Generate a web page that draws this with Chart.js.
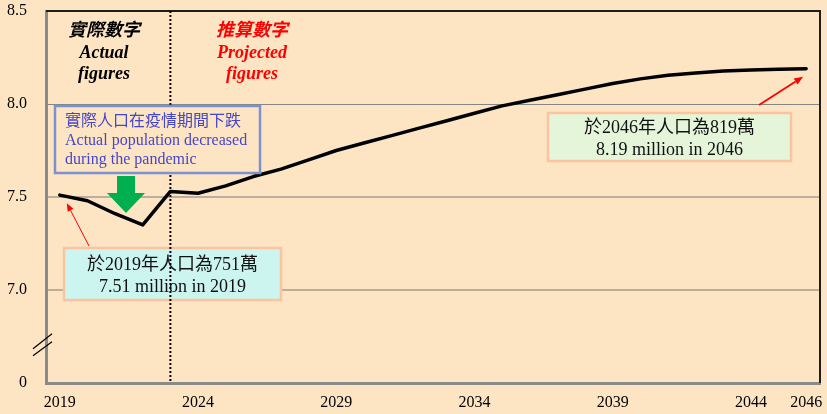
<!DOCTYPE html>
<html>
<head>
<meta charset="utf-8">
<script src="https://cdn.jsdelivr.net/npm/chart.js@4/dist/chart.umd.min.js"></script>
<style>
  html, body { margin: 0; padding: 0; background: #fde5c4; }
  #wrap { width: 827px; height: 414px; }
</style>
</head>
<body>
<div id="wrap"><canvas id="c" width="827" height="414"></canvas></div>
<script>
// ---- data ----
const years = [2019, 2020, 2021, 2022, 2023, 2024, 2025, 2026, 2027, 2028, 2029, 2030, 2031, 2032,
               2033, 2034, 2035, 2036, 2037, 2038, 2039, 2040, 2041, 2042, 2043, 2044, 2045, 2046];
const population = [7.51, 7.48, 7.41, 7.35, 7.53, 7.52, 7.56, 7.61, 7.65, 7.70, 7.75, 7.79, 7.83, 7.87,
                    7.91, 7.95, 7.99, 8.02, 8.05, 8.08, 8.11, 8.135, 8.155, 8.167, 8.177, 8.183, 8.187, 8.19];
const xTickLabels = [2019, 2024, 2029, 2034, 2039, 2044, 2046];
const yTickValues = [6.5, 7.0, 7.5, 8.0, 8.5];   // 6.5 is shown as "0" (broken axis)
const yTickText = ['0', '7.0', '7.5', '8.0', '8.5'];
const dividerYear = 2023;
const actualLabel = ['實際數字', 'Actual', 'figures'];
const projectedLabel = ['推算數字', 'Projected', 'figures'];
const pandemicNote = ['實際人口在疫情期間下跌', 'Actual population decreased', 'during the pandemic'];
const note2019 = ['於2019年人口為751萬', '7.51 million in 2019'];
const note2046 = ['於2046年人口為819萬', '8.19 million in 2046'];

const SERIF = '"Liberation Serif", "Noto Sans CJK TC", serif';
const BG = '#fde5c4';

const points = years.map((y, i) => ({ x: y, y: population[i] }));

function arrow(ctx, x1, y1, x2, y2, color, w, head) {
  ctx.save();
  ctx.strokeStyle = color; ctx.fillStyle = color; ctx.lineWidth = w;
  const a = Math.atan2(y2 - y1, x2 - x1);
  const bx = x2 - head * Math.cos(a), by = y2 - head * Math.sin(a);
  ctx.beginPath(); ctx.moveTo(x1, y1); ctx.lineTo(bx, by); ctx.stroke();
  ctx.beginPath();
  ctx.moveTo(x2, y2);
  ctx.lineTo(bx + head * 0.4 * Math.sin(a), by - head * 0.4 * Math.cos(a));
  ctx.lineTo(bx - head * 0.4 * Math.sin(a), by + head * 0.4 * Math.cos(a));
  ctx.closePath(); ctx.fill();
  ctx.restore();
}

function box(ctx, x, y, w, h, fill, stroke, lw) {
  ctx.save();
  if (fill) { ctx.fillStyle = fill; ctx.fillRect(x, y, w, h); }
  ctx.strokeStyle = stroke; ctx.lineWidth = lw;
  ctx.strokeRect(x, y, w, h);
  ctx.restore();
}

const decorPlugin = {
  id: 'decor',
  beforeDraw(chart) {
    const ctx = chart.ctx;
    ctx.save();
    ctx.fillStyle = BG;
    ctx.fillRect(0, 0, chart.width, chart.height);
    ctx.restore();
  },
  afterDatasetsDraw(chart) {
    const ctx = chart.ctx;
    const a = chart.chartArea;
    const xs = chart.scales.x, ys = chart.scales.y;

    // top & right frame
    ctx.save();
    ctx.strokeStyle = '#1e1e1e'; ctx.lineWidth = 2;
    ctx.beginPath();
    ctx.moveTo(a.left, a.top); ctx.lineTo(a.right, a.top); ctx.lineTo(a.right, a.bottom);
    ctx.stroke();
    ctx.restore();

    // 2019 note box (divider line shows through it)
    box(ctx, 64, 248, 217, 52, '#ccf5f0', '#fbc49f', 2.5);

    // divider dotted line
    const dx = xs.getPixelForValue(dividerYear);
    ctx.save();
    ctx.strokeStyle = '#000'; ctx.lineWidth = 2; ctx.setLineDash([2, 2]);
    ctx.beginPath(); ctx.moveTo(dx, a.top); ctx.lineTo(dx, a.bottom); ctx.stroke();
    ctx.restore();

    // axis break marks
    const by = ys.getPixelForValue(6.7);
    ctx.save();
    ctx.strokeStyle = '#000'; ctx.lineWidth = 1.2;
    ctx.beginPath();
    ctx.moveTo(a.left - 13, by + 3); ctx.lineTo(a.left + 6, by - 12);
    ctx.moveTo(a.left - 13, by + 10); ctx.lineTo(a.left + 6, by - 4);
    ctx.stroke();
    ctx.restore();

    // header labels
    ctx.save();
    ctx.textAlign = 'center'; ctx.textBaseline = 'middle';
    ctx.font = 'italic bold 18px ' + SERIF;
    const lx = a.left + 58, rx = a.left + 206;
    const ly = [a.top + 20, a.top + 42, a.top + 63];
    ctx.fillStyle = '#000';
    actualLabel.forEach((t, i) => ctx.fillText(t, lx, ly[i]));
    ctx.fillStyle = '#ff0000';
    projectedLabel.forEach((t, i) => ctx.fillText(t, rx, ly[i]));
    ctx.restore();

    // pandemic note box (opaque, hides the divider)
    box(ctx, 55, 106, 205, 67, BG, '#7d90cf', 2.5);
    ctx.save();
    ctx.textAlign = 'left'; ctx.textBaseline = 'middle';
    ctx.fillStyle = '#4646c8';
    ctx.font = '16px ' + SERIF;
    ctx.fillText(pandemicNote[0], 65, 122);
    ctx.fillText(pandemicNote[1], 65, 141);
    ctx.fillText(pandemicNote[2], 65, 160);
    ctx.restore();

    // green down arrow
    ctx.save();
    ctx.fillStyle = '#00b050';
    ctx.beginPath();
    ctx.moveTo(117, 176); ctx.lineTo(135, 176); ctx.lineTo(135, 193); ctx.lineTo(145, 193);
    ctx.lineTo(126, 213); ctx.lineTo(107, 193); ctx.lineTo(117, 193); ctx.closePath();
    ctx.fill();
    ctx.restore();

    // 2019 note text + arrow
    const p19x = xs.getPixelForValue(years[0]), p19y = ys.getPixelForValue(population[0]);
    arrow(ctx, 89, 246, p19x + 7, p19y + 8, '#ff0000', 1, 8);
    ctx.save();
    ctx.textAlign = 'center'; ctx.textBaseline = 'middle'; ctx.fillStyle = '#111';
    ctx.font = '18px ' + SERIF;
    ctx.fillText(note2019[0], 172.5, 265);
    ctx.fillText(note2019[1], 172.5, 287);
    ctx.restore();

    // 2046 note
    const pEx = xs.getPixelForValue(years[years.length - 1]), pEy = ys.getPixelForValue(population[population.length - 1]);
    arrow(ctx, 759, 105, pEx - 3, pEy + 8, '#ff0000', 1.8, 9);
    box(ctx, 548, 113, 243, 48, '#e4f5da', '#fbc49f', 2.5);
    ctx.save();
    ctx.textAlign = 'center'; ctx.textBaseline = 'middle'; ctx.fillStyle = '#111';
    ctx.font = '18px ' + SERIF;
    ctx.fillText(note2046[0], 669.5, 128);
    ctx.fillText(note2046[1], 669.5, 150);
    ctx.restore();
  }
};

Chart.defaults.font.family = SERIF;
Chart.defaults.color = '#000';

new Chart(document.getElementById('c'), {
  type: 'line',
  data: {
    datasets: [{
      data: points,
      borderColor: '#000',
      borderWidth: 3.5,
      pointRadius: 0,
      tension: 0,
      borderJoinStyle: 'round',
      borderCapStyle: 'round'
    }]
  },
  options: {
    responsive: false,
    animation: false,
    layout: { padding: { top: 11, right: 7, left: 0, bottom: 0 } },
    plugins: { legend: { display: false }, tooltip: { enabled: false } },
    scales: {
      x: {
        type: 'linear',
        min: 2018.5, max: 2046.5,
        afterFit(s) { s.height = 31; s.paddingLeft = 0; s.paddingRight = 0; },
        afterBuildTicks(s) { s.ticks = xTickLabels.map(v => ({ value: v })); },
        ticks: {
          autoSkip: false, maxRotation: 0, padding: 10,
          font: { size: 16, family: SERIF },
          color: '#000',
          callback: v => String(v)
        },
        grid: { display: false, drawTicks: false },
        border: { display: true, color: '#8a8a8a', width: 3 }
      },
      y: {
        type: 'linear',
        min: 6.5, max: 8.5,
        afterFit(s) { s.width = 46; s.paddingTop = 0; s.paddingBottom = 0; },
        afterBuildTicks(s) { s.ticks = yTickValues.map(v => ({ value: v })); },
        ticks: {
          padding: 19,
          font: { size: 16, family: SERIF },
          color: '#000',
          callback: v => yTickText[yTickValues.indexOf(v)]
        },
        grid: {
          drawTicks: false,
          color: c => (c.tick && c.tick.value === 8.0) ? '#858585' : ((c.tick && (c.tick.value === 7.5 || c.tick.value === 7.0)) ? '#bcae9c' : 'rgba(0,0,0,0)'),
          lineWidth: c => (c.tick && c.tick.value === 8.0) ? 1 : 2
        },
        border: { display: true, color: '#8a8a8a', width: 3 }
      }
    }
  },
  plugins: [decorPlugin]
});
</script>
</body>
</html>
